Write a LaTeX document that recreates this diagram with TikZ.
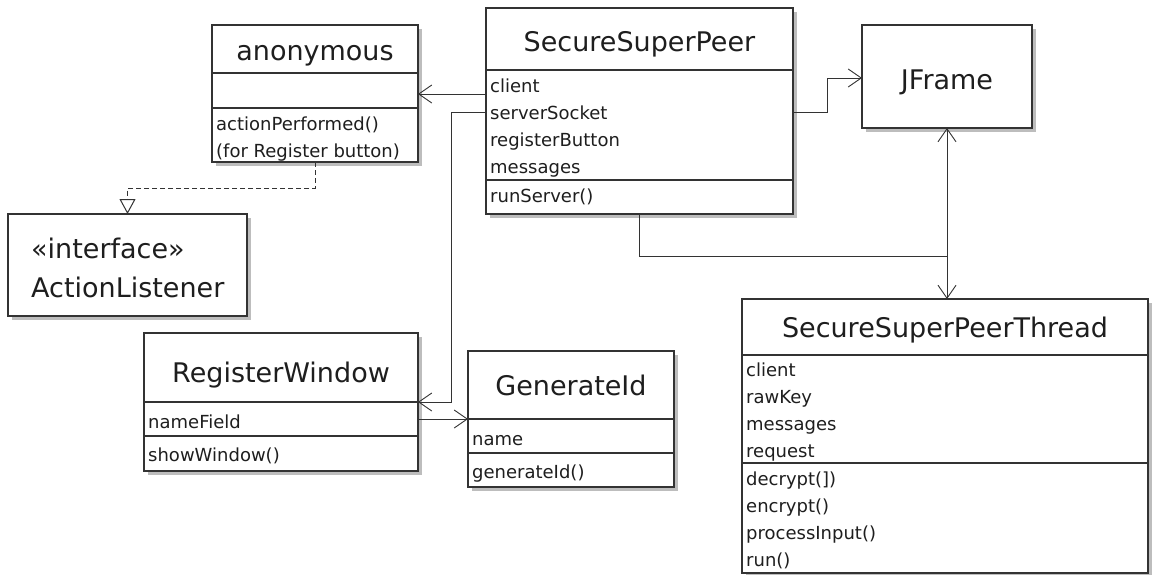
\documentclass[tikz,border=0pt]{standalone}
\usepackage{fontspec}
\setmainfont{DejaVu Sans}
\usetikzlibrary{arrows.meta,shadows,calc}
\definecolor{ln}{HTML}{333333}
\definecolor{tx}{HTML}{1E1E1E}
\definecolor{shd}{HTML}{BDBDBD}
\newcommand{\ttlfont}{\fontsize{27}{32}\selectfont}
\newcommand{\itmfont}{\fontsize{18}{22}\selectfont}
\begin{document}
\begin{tikzpicture}[x=1pt,y=-1pt,
  cls/.style={draw=ln, line width=1.2pt, fill=white, inner sep=0pt, outer sep=0pt, anchor=north west,
    drop shadow={shadow xshift=4pt, shadow yshift=-4pt, fill=shd, opacity=1}},
  divline/.style={draw=ln, line width=1.2pt},
  itemtxt/.style={font=\itmfont, text=tx, inner sep=0pt, anchor=base west},
  titletxt/.style={font=\ttlfont, text=tx, inner sep=0pt, anchor=base},
  assoc/.style={draw=ln, line width=1pt, -{Straight Barb[length=13pt,width=18pt,line width=0.9pt]}},
  realize/.style={draw=ln, line width=1pt, dash pattern=on 5pt off 3pt, -{Triangle[open,length=15pt,width=16pt,line width=1pt]}}]
\useasboundingbox (0,0) rectangle (1153,574);
\fill[white] (0,0) rectangle (1153,574);

% anonymous
\node[cls, minimum width=206pt, minimum height=137pt] (anon) at (212,25) {};
\draw[divline] (anon.west |- 0,73) -- (anon.east |- 0,73);
\draw[divline] (anon.west |- 0,108) -- (anon.east |- 0,108);
\node[titletxt] (anon-t) at (315,60) {anonymous};
\node[itemtxt] (anon-m1) at (216,130) {actionPerformed()};
\node[itemtxt] (anon-m2) at (216,157) {(for Register button)};

% SecureSuperPeer
\node[cls, minimum width=307pt, minimum height=206pt] (ssp) at (486,8) {};
\draw[divline] (ssp.west |- 0,70) -- (ssp.east |- 0,70);
\draw[divline] (ssp.west |- 0,180) -- (ssp.east |- 0,180);
\node[titletxt] (ssp-t) at (639.5,51) {SecureSuperPeer};
\node[itemtxt] (ssp-a1) at (490,92) {client};
\node[itemtxt] (ssp-a2) at (490,119) {serverSocket};
\node[itemtxt] (ssp-a3) at (490,146) {registerButton};
\node[itemtxt] (ssp-a4) at (490,173) {messages};
\node[itemtxt] (ssp-m1) at (490,202) {runServer()};

% JFrame
\node[cls, minimum width=170pt, minimum height=103pt] (jf) at (862,25) {};
\node[titletxt] (jf-t) at (947,89) {JFrame};

% ActionListener
\node[cls, minimum width=239pt, minimum height=102pt] (al) at (8,214) {};
\node[titletxt, anchor=base west] (al-s) at (31,258) {«interface»};
\node[titletxt, anchor=base west] (al-t) at (31,297) {ActionListener};

% RegisterWindow
\node[cls, minimum width=274pt, minimum height=138pt] (rw) at (144,333) {};
\draw[divline] (rw.west |- 0,402) -- (rw.east |- 0,402);
\draw[divline] (rw.west |- 0,436) -- (rw.east |- 0,436);
\node[titletxt] (rw-t) at (281,382) {RegisterWindow};
\node[itemtxt] (rw-a1) at (148,428) {nameField};
\node[itemtxt] (rw-m1) at (148,461) {showWindow()};

% GenerateId
\node[cls, minimum width=206pt, minimum height=136pt] (gi) at (468,351) {};
\draw[divline] (gi.west |- 0,419) -- (gi.east |- 0,419);
\draw[divline] (gi.west |- 0,453) -- (gi.east |- 0,453);
\node[titletxt] (gi-t) at (571,395) {GenerateId};
\node[itemtxt] (gi-a1) at (472,445) {name};
\node[itemtxt] (gi-m1) at (472,478) {generateId()};

% SecureSuperPeerThread
\node[cls, minimum width=406pt, minimum height=274pt] (sspt) at (742,299) {};
\draw[divline] (sspt.west |- 0,355) -- (sspt.east |- 0,355);
\draw[divline] (sspt.west |- 0,463) -- (sspt.east |- 0,463);
\node[titletxt] (sspt-t) at (945,337) {SecureSuperPeerThread};
\node[itemtxt] (sspt-a1) at (746,376) {client};
\node[itemtxt] (sspt-a2) at (746,403) {rawKey};
\node[itemtxt] (sspt-a3) at (746,430) {messages};
\node[itemtxt] (sspt-a4) at (746,457) {request};
\node[itemtxt] (sspt-m1) at (746,485) {decrypt(])};
\node[itemtxt] (sspt-m2) at (746,512) {encrypt()};
\node[itemtxt] (sspt-m3) at (746,539) {processInput()};
\node[itemtxt] (sspt-m4) at (746,566) {run()};

% connectors
\coordinate (elbowrw) at (451,402);
\coordinate (junction) at (jf.south |- 0,256);
\draw[assoc] (ssp.west |- 0,94) -- (anon.east |- 0,94);
\draw[assoc] (ssp.west |- 0,112) -| (elbowrw) -- (rw.east |- elbowrw);
\draw[assoc] (ssp.east |- 0,112) -- ++(34,0) |- (jf.west |- 0,78);
\draw[assoc] (ssp.south) |- (junction) -- (jf.south |- sspt.north);
\draw[assoc] (jf.south |- sspt.north) -- (jf.south);
\draw[assoc] (rw.east |- 0,419) -- (gi.west |- 0,419);
\draw[realize] (anon.south) -- ++(0,26) -| (al.north);
\end{tikzpicture}
\end{document}
